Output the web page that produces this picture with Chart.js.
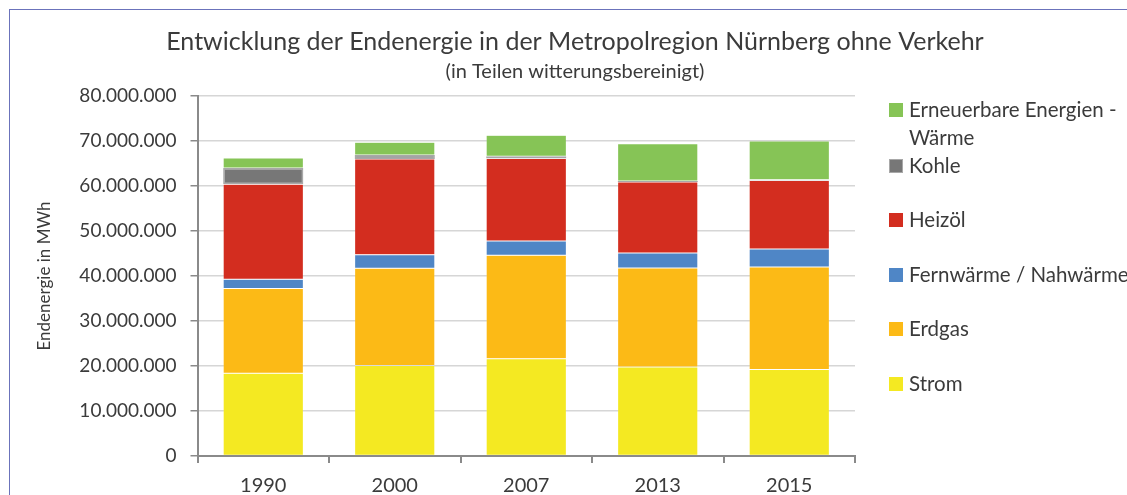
<!DOCTYPE html>
<html>
<head>
<meta charset="utf-8">
<script src="https://cdn.jsdelivr.net/npm/chart.js@4"></script>
<style>
  html, body { margin: 0; padding: 0; background: #fff; overflow: hidden; }
  #frame { position: absolute; left: 9px; top: 9px; width: 1200px; height: 600px;
           border-left: 1.5px solid #6b73bb; border-top: 1.5px solid #6b73bb; }
  #wrap { position: absolute; left: 0; top: 0; width: 1150px; height: 495px; }
</style>
</head>
<body>
<div id="frame"></div>
<div id="wrap"><canvas id="chart" width="1150" height="495"></canvas></div>
<script>
const years = ["1990", "2000", "2007", "2013", "2015"];
// MWh
const strom      = [18400000, 20100000, 21600000, 19800000, 19200000];
const erdgas     = [18800000, 21600000, 23000000, 22000000, 22800000];
const fernwaerme = [2100000, 3000000, 3200000, 3300000, 4000000];
const heizoel    = [21100000, 21300000, 18300000, 15800000, 15200000];
const kohle      = [3600000, 900000, 500000, 200000, 200000];
const erneuerbar = [2200000, 2800000, 4700000, 8300000, 8600000];

const yTicks = [0, 10000000, 20000000, 30000000, 40000000, 50000000, 60000000, 70000000, 80000000];

const titleText = "Entwicklung der Endenergie in der Metropolregion Nürnberg ohne Verkehr";
const subtitleText = "(in Teilen witterungsbereinigt)";

const FONT = "Lato";
const TXT = "#3b3b3b";

function fmt(v) {
  return String(v).replace(/\B(?=(\d{3})+(?!\d))/g, ".");
}

const series = [
  { label: "Strom", data: strom, color: "#f4e922" },
  { label: "Erdgas", data: erdgas, color: "#fcba16" },
  { label: "Fernwärme / Nahwärme", data: fernwaerme, color: "#4f86c6" },
  { label: "Heizöl", data: heizoel, color: "#d32d1f" },
  { label: "Kohle", data: kohle, color: "#777777", border: "#a8a8a8" },
  { label: ["Erneuerbare Energien -", "Wärme"], data: erneuerbar, color: "#86c456" }
];

// legend rows, top to bottom: y centre of first line
const legendY = [110, 166, 220, 275, 329, 384];

// title + legend drawn by hand so they can sit where the original has them
const decor = {
  id: "decor",
  afterDraw(chart) {
    const ctx = chart.ctx;
    ctx.save();
    ctx.fillStyle = TXT;
    ctx.textBaseline = "middle";
    ctx.textAlign = "center";
    ctx.font = "25px " + FONT;
    ctx.fillText(titleText, 575, 42);
    ctx.font = "20px " + FONT;
    ctx.fillText(subtitleText, 575, 72);

    ctx.font = "20.5px " + FONT;
    ctx.textAlign = "left";
    const items = series.slice().reverse();
    items.forEach((s, i) => {
      const y = legendY[i];
      ctx.fillStyle = s.color;
      ctx.fillRect(889, y - 7, 14, 14);
      if (s.border) {
        ctx.strokeStyle = s.border;
        ctx.lineWidth = 1;
        ctx.strokeRect(889.5, y - 6.5, 13, 13);
      }
      ctx.fillStyle = TXT;
      const lines = Array.isArray(s.label) ? s.label : [s.label];
      lines.forEach((t, j) => ctx.fillText(t, 909, y + j * 28));
    });
    ctx.restore();
  }
};

new Chart(document.getElementById("chart"), {
  type: "bar",
  data: {
    labels: years,
    datasets: series.map(s => ({
      label: Array.isArray(s.label) ? s.label.join(" ") : s.label,
      data: s.data,
      backgroundColor: s.color,
      borderColor: s.border || "rgba(255,255,255,0.25)",
      borderWidth: s.border ? 1.5 : 0.5,
      borderSkipped: false,
      barPercentage: 0.61,
      categoryPercentage: 1
    }))
  },
  options: {
    responsive: false,
    animation: false,
    layout: { padding: { left: 0, right: 295, top: 96, bottom: 0 } },
    plugins: {
      legend: { display: false },
      tooltip: { enabled: false }
    },
    scales: {
      x: {
        stacked: true,
        afterFit(s) { s.height = 39; },
        border: { color: "#8a8a8a", width: 2 },
        grid: { drawOnChartArea: false, offset: true, tickLength: 7, tickColor: "#8a8a8a", lineWidth: 2 },
        ticks: { color: TXT, font: { family: FONT, size: 20 }, padding: 11 }
      },
      y: {
        stacked: true,
        min: 0,
        max: 80000000,
        afterFit(s) { s.width = 197.5; },
        afterBuildTicks(s) { s.ticks = yTicks.map(v => ({ value: v })); },
        border: { color: "#8a8a8a", width: 2 },
        grid: { color: "#d6d6d6", lineWidth: 1.5, tickLength: 7, tickColor: "#8a8a8a" },
        ticks: { color: TXT, font: { family: FONT, size: 19 }, padding: 14, callback: v => fmt(v) },
        title: {
          display: true,
          text: "Endenergie in MWh",
          color: TXT,
          font: { family: FONT, size: 17 },
          padding: { top: 34.8, bottom: 0 }
        }
      }
    }
  },
  plugins: [decor]
});
</script>
</body>
</html>
